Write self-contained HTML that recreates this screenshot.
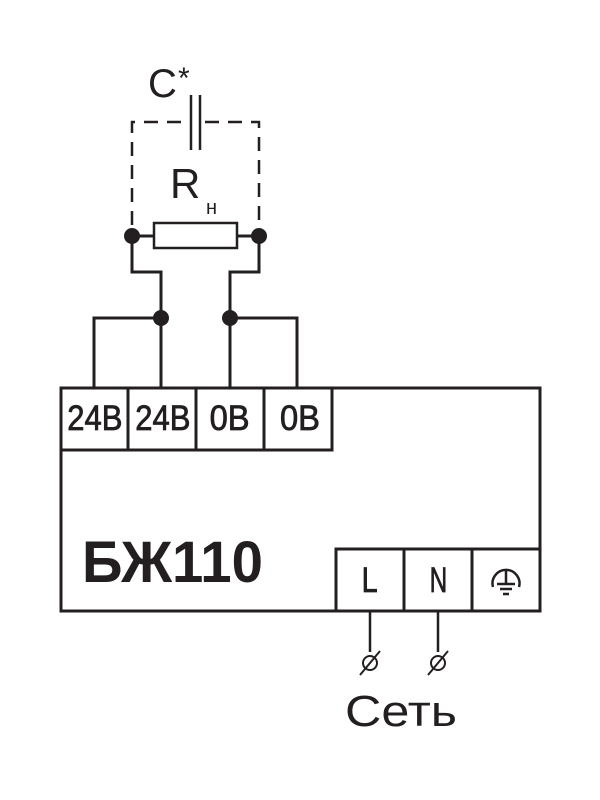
<!DOCTYPE html>
<html><head><meta charset="utf-8"><style>html,body{margin:0;padding:0;background:#fff}svg{display:block}</style></head>
<body>
<svg width="600" height="800" viewBox="0 0 600 800" xmlns="http://www.w3.org/2000/svg">
<g fill="none" stroke="#231f20" stroke-width="3">
<path d="M132 225 V122 H185 M205 122 H259 V225" stroke-dasharray="14 9" stroke-width="2.5"/>
<line x1="191" y1="95" x2="191" y2="150" stroke-width="2.5"/>
<line x1="200" y1="95" x2="200" y2="150" stroke-width="2.5"/>
<rect x="154" y="223" width="83" height="25" stroke-width="2.5"/>
<line x1="132" y1="236" x2="154" y2="236"/>
<line x1="237" y1="236" x2="259" y2="236"/>
<path d="M132 236 V272 H161 V388"/>
<path d="M259 236 V272 H230 V388"/>
<path d="M161 318 H94 V388"/>
<path d="M230 318 H297 V388"/>
<rect x="61" y="388" width="479" height="223"/>
<path d="M61 450 H332 V388 M128 388 V450 M196 388 V450 M264 388 V450"/>
<path d="M336 611 V549 H540 M404 549 V611 M472 549 V611"/>
<line x1="370" y1="611" x2="370" y2="652" stroke-width="2.5"/>
<line x1="438" y1="611" x2="438" y2="652" stroke-width="2.5"/>
<circle cx="370" cy="663" r="7" stroke-width="2"/>
<circle cx="438" cy="663" r="7" stroke-width="2"/>
<line x1="360" y1="675" x2="380" y2="651" stroke-width="2"/>
<line x1="428" y1="675" x2="448" y2="651" stroke-width="2"/>
<path d="M493 587 A13.5 13.5 0 1 1 519 587" stroke-width="2.5"/>
<line x1="506" y1="569" x2="506" y2="584" stroke-width="2.5"/>
<line x1="497" y1="584" x2="515" y2="584" stroke-width="2.5"/>
<line x1="500" y1="589" x2="512" y2="589" stroke-width="2.5"/>
<line x1="503" y1="594" x2="509" y2="594" stroke-width="2.5"/>
</g>
<g fill="#231f20">
<circle cx="132" cy="236" r="8"/>
<circle cx="259" cy="236" r="8"/>
<circle cx="161" cy="318" r="8"/>
<circle cx="230" cy="318" r="8"/>
</g>
<g fill="#231f20" font-family="Liberation Sans, sans-serif">
<text x="148" y="97" font-size="40">C</text>
<text x="178" y="88" font-size="30">*</text>
<text x="170" y="198" font-size="42">R</text>
<text x="206" y="214" font-size="20">н</text>
<g font-size="35" transform="scale(0.8,1)" stroke="#231f20" stroke-width="0.8">
<text x="84" y="430" textLength="69" lengthAdjust="spacingAndGlyphs">24B</text>
<text x="169" y="430" textLength="69" lengthAdjust="spacingAndGlyphs">24B</text>
<text x="262" y="430" textLength="50" lengthAdjust="spacingAndGlyphs">0B</text>
<text x="350" y="430" textLength="50" lengthAdjust="spacingAndGlyphs">0B</text>
<text x="452" y="592" textLength="20" lengthAdjust="spacingAndGlyphs">L</text>
<text x="537" y="592" textLength="22" lengthAdjust="spacingAndGlyphs">N</text>
</g>
<text x="82" y="582" font-size="58" font-weight="bold" textLength="181" lengthAdjust="spacingAndGlyphs">БЖ110</text>
<text x="345" y="726" font-size="44" textLength="112" lengthAdjust="spacingAndGlyphs">Сеть</text>
</g>
</svg>
</body></html>
